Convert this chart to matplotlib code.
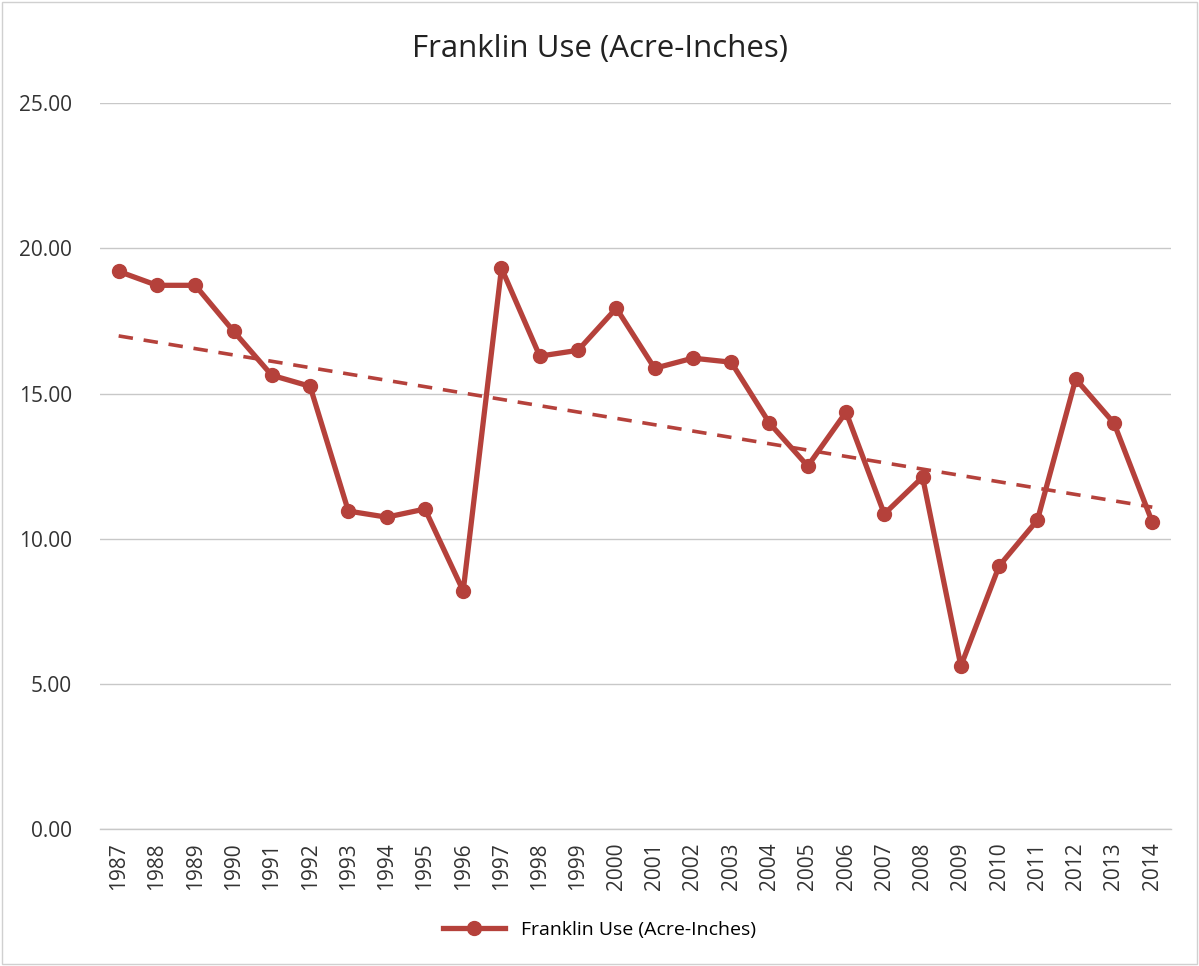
import numpy as np
import matplotlib.pyplot as plt
from matplotlib.ticker import FormatStrFormatter

years = [str(y) for y in range(1987, 2015)]
use = [19.21, 18.73, 18.73, 17.15, 15.63, 15.25, 10.95, 10.74, 11.02, 8.20,
       19.32, 16.29, 16.49, 17.94, 15.87, 16.22, 16.08, 13.98, 12.50, 14.36,
       10.85, 12.12, 5.61, 9.06, 10.64, 15.50, 13.98, 10.57]
series_name = "Franklin Use (Acre-Inches)"

plt.rcParams['font.family'] = ['Open Sans', 'DejaVu Sans']
color = '#b5413b'

fig = plt.figure(figsize=(11.99, 9.66), dpi=100)
ax = fig.add_axes([0.083, 0.142, 0.894, 0.751])

x = np.arange(len(years))
ax.plot(x, use, color=color, lw=3.8, marker='o', ms=10, label=series_name, zorder=3)

# linear trendline
coef = np.polyfit(x, use, 1)
ax.plot(x, np.polyval(coef, x), color=color, lw=2.6, ls=(0, (4, 3)), zorder=2)

ax.set_xlim(-0.5, len(years) - 0.5)
ax.set_ylim(0, 25)
ax.set_yticks(np.arange(0, 26, 5))
ax.yaxis.set_major_formatter(FormatStrFormatter('%.2f'))
ax.set_xticks(x)
ax.set_xticklabels(years, rotation=90)
ax.tick_params(axis='y', length=0, labelsize=15, colors='#333333', pad=20)
ax.tick_params(axis='x', length=0, labelsize=15, colors='#333333', pad=10)
ax.grid(axis='y', color='#c8c8c8', lw=1)
ax.axhline(0, color='#c8c8c8', lw=1, clip_on=False, zorder=1)
ax.set_axisbelow(True)
for s in ax.spines.values():
    s.set_visible(False)

fig.suptitle(series_name, y=0.965, fontsize=22.5, color='#222222')
fig.legend(loc='lower center', bbox_to_anchor=(0.5, 0.01), frameon=False,
           fontsize=14, handlelength=3.2)
fig.patches.append(plt.Rectangle((0.002, 0.002), 0.996, 0.996, transform=fig.transFigure,
                                 fill=False, edgecolor='#d0d0d0', lw=1))

fig.savefig('out.png', dpi=100)
